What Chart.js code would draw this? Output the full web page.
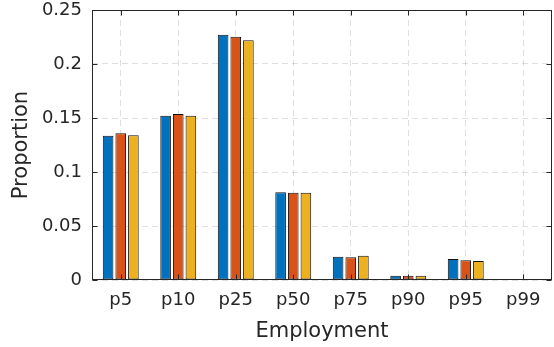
<!DOCTYPE html>
<html>
<head>
<meta charset="utf-8">
<script src="https://cdn.jsdelivr.net/npm/chart.js@4/dist/chart.umd.min.js"></script>
<style>
  html, body { margin: 0; padding: 0; background: #fff; }
  #wrap { width: 554px; height: 347px; }
</style>
</head>
<body>
<div id="wrap"><canvas id="employmentChart" width="554" height="347"></canvas></div>
<script>
// percentile groups on the x axis
const categories = ['p5', 'p10', 'p25', 'p50', 'p75', 'p90', 'p95', 'p99'];

// share of observations in each group, three series
const seriesA = [0.1336, 0.1520, 0.2271, 0.0812, 0.0216, 0.0040, 0.0194, 0.0005];
const seriesB = [0.1358, 0.1537, 0.2253, 0.0809, 0.0210, 0.0040, 0.0182, 0.0005];
const seriesC = [0.1340, 0.1520, 0.2220, 0.0809, 0.0225, 0.0040, 0.0176, 0.0005];

// y axis range and step
const yMin = 0;
const yMax = 0.25;
const yStep = 0.05;

const axisColor = '#262626';
const fontFamily = '"DejaVu Sans", "Liberation Sans", sans-serif';

// box around the plot area plus inward tick marks on all four sides
const boxAndTicks = {
    id: 'boxAndTicks',
    afterDraw(chart) {
        const { ctx, chartArea: a, scales } = chart;
        const L = Math.round(a.left) + 0.5, R = Math.round(a.right) - 0.5;
        const T = Math.round(a.top) + 0.5, B = Math.round(a.bottom) - 0.5;
        const len = 5;
        ctx.save();
        ctx.strokeStyle = axisColor;
        ctx.lineWidth = 1;
        ctx.beginPath();
        scales.x.ticks.forEach((t, i) => {
            const px = Math.round(scales.x.getPixelForTick(i)) + 0.5;
            ctx.moveTo(px, B); ctx.lineTo(px, B - len);
            ctx.moveTo(px, T); ctx.lineTo(px, T + len);
        });
        scales.y.ticks.forEach((t, i) => {
            const py = Math.round(scales.y.getPixelForTick(i)) + 0.5;
            ctx.moveTo(L, py); ctx.lineTo(L + len, py);
            ctx.moveTo(R, py); ctx.lineTo(R - len, py);
        });
        ctx.stroke();
        ctx.strokeRect(L, T, R - L, B - T);
        ctx.restore();
    }
};

function makeSeries(label, data, color) {
    return {
        label: label,
        data: data,
        backgroundColor: color,
        borderColor: '#111',
        borderWidth: 1,
        borderSkipped: false,
        barPercentage: 0.84,
        categoryPercentage: 0.66
    };
}

const ctx = document.getElementById('employmentChart').getContext('2d');
new Chart(ctx, {
    type: 'bar',
    data: {
        labels: categories,
        datasets: [
            makeSeries('Series 1', seriesA, '#0072BD'),
            makeSeries('Series 2', seriesB, '#D95319'),
            makeSeries('Series 3', seriesC, '#EDB120')
        ]
    },
    options: {
        responsive: false,
        animation: false,
        layout: { padding: { top: 10, right: 2, left: 0, bottom: 0 } },
        plugins: {
            legend: { display: false },
            tooltip: { enabled: false }
        },
        scales: {
            x: {
                offset: true,
                grid: {
                    offset: false,
                    drawTicks: false,
                    color: 'rgba(38,38,38,0.15)',
                    lineWidth: 1
                },
                border: { display: false, dash: [6, 4] },
                ticks: {
                    color: axisColor,
                    padding: 11,
                    maxRotation: 0,
                    font: { family: fontFamily, size: 18, lineHeight: 1 }
                },
                title: {
                    display: true,
                    text: 'Employment',
                    color: axisColor,
                    padding: { top: 0, bottom: 3 },
                    font: { family: fontFamily, size: 21 }
                },
                afterFit(scale) {
                    scale.height = 67;
                    scale.paddingLeft = 0;
                    scale.paddingRight = 0;
                }
            },
            y: {
                min: yMin,
                max: yMax,
                grid: {
                    drawTicks: false,
                    color: 'rgba(38,38,38,0.15)',
                    lineWidth: 1
                },
                border: { display: false, dash: [6, 4] },
                ticks: {
                    stepSize: yStep,
                    color: axisColor,
                    padding: 10,
                    font: { family: fontFamily, size: 18, lineHeight: 1 },
                    callback: v => String(+v.toFixed(2))
                },
                title: {
                    display: true,
                    text: 'Proportion',
                    color: axisColor,
                    padding: { top: 9, bottom: 0 },
                    font: { family: fontFamily, size: 21 }
                },
                afterFit(scale) {
                    scale.width = 92;
                    scale.paddingTop = 0;
                    scale.paddingBottom = 0;
                }
            }
        }
    },
    plugins: [boxAndTicks]
});
</script>
</body>
</html>
